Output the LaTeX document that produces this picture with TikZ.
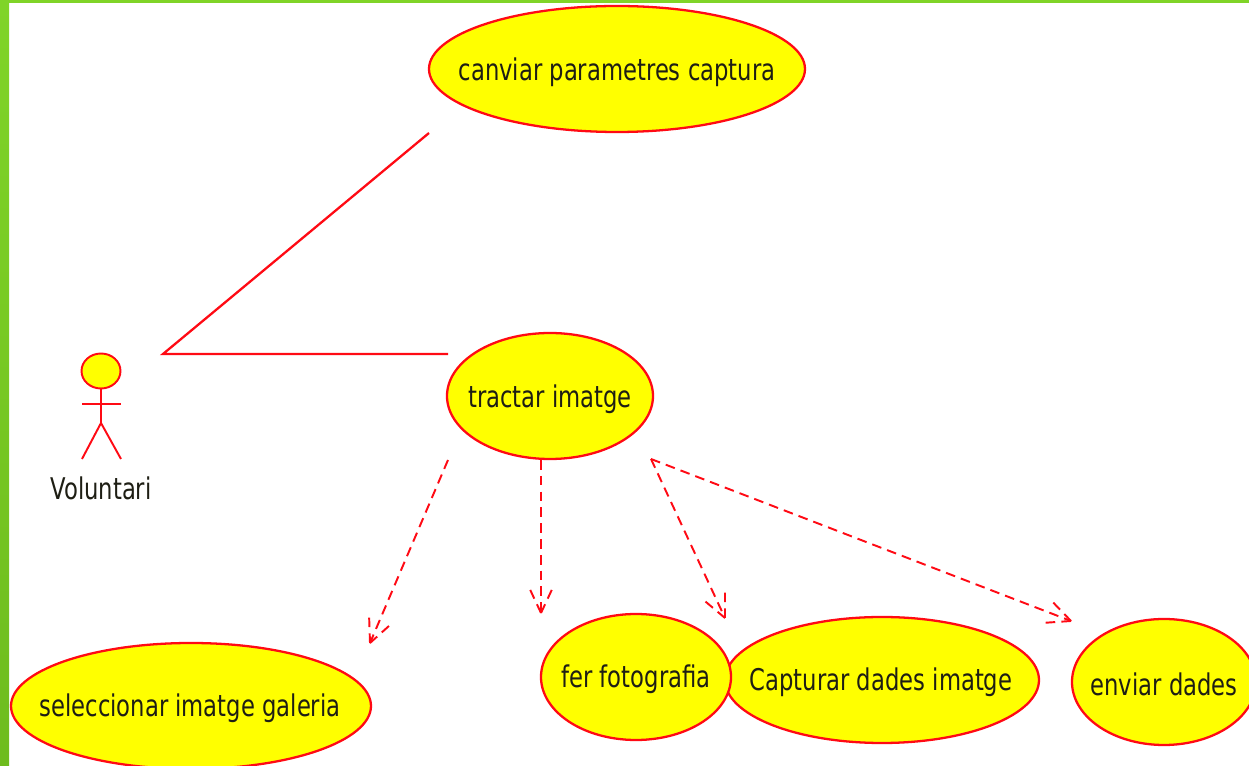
\documentclass[tikz,border=0pt]{standalone}
\usepackage{fontspec}
\setmainfont{DejaVu Sans}[FakeStretch=0.76]
\usepackage{xcolor}
\usetikzlibrary{shapes.geometric,calc}
\definecolor{linered}{RGB}{255,10,20}
\definecolor{fillyellow}{RGB}{255,255,0}
\definecolor{bargreen}{RGB}{128,212,40}
\definecolor{bardark}{RGB}{110,188,30}
\definecolor{textgrey}{RGB}{30,30,20}
\tikzset{
    usecase/.style={ellipse, draw=linered, fill=fillyellow, line width=1.3pt, inner sep=0pt,
        minimum height=126*0.02cm},
    casetext/.style={text=textgrey, font=\fontsize{17}{20}\selectfont},
    assoc/.style={linered, line width=1.3pt},
    dep/.style={linered, line width=1.1pt, dash pattern=on 5.5pt off 3.5pt},
    stick/.style={linered, line width=1.1pt}
}
\newcommand{\deplink}[2]{%
    \draw[dep] (#1) -- (#2);
    \draw[dep] (#2) -- ($(#2)!16pt!25:(#1)$);
    \draw[dep] (#2) -- ($(#2)!16pt!-25:(#1)$);
}
\begin{document}
\begin{tikzpicture}[x=0.02cm,y=-0.02cm]
    \useasboundingbox (0,0) rectangle (1249,766);

    % Green frame
    \fill[bargreen] (0,0) rectangle (1249,3);
    \fill[top color=bargreen, bottom color=bardark] (0,0) rectangle (9,766);

    % Use cases
    \node[usecase, minimum width=376*0.02cm] (canviar) at (617,69) {};
    \node[usecase, minimum width=206*0.02cm] (tractar) at (550,396) {};
    \node[usecase, minimum width=360*0.02cm] (seleccionar) at (191,706) {};
    \node[usecase, minimum width=314*0.02cm] (capturar) at (882,680) {};
    \node[usecase, minimum width=190*0.02cm] (fer) at (636,677) {};
    \node[usecase, minimum width=184*0.02cm] (enviar) at (1164,682) {};

    % Use case names
    \node[casetext] (canviarname) at (617,72) {canviar parametres captura};
    \node[casetext] (tractarname) at (550,399) {tractar imatge};
    \node[casetext] (seleccionarname) at (190,708) {seleccionar imatge galeria};
    \node[casetext] (capturarname) at (881,682) {Capturar dades imatge};
    \node[casetext] (fername) at (636,679) {fer fotografia};
    \node[casetext] (enviarname) at (1164,684) {enviar dades};

    % Actor
    \node[ellipse, draw=linered, fill=fillyellow, line width=1.1pt, inner sep=0pt,
        minimum width=39*0.02cm, minimum height=35*0.02cm] (head) at (101,371) {};
    \coordinate (hip) at (101,423);
    \coordinate (armL) at (82,404);
    \coordinate (armR) at (121,404);
    \coordinate (footL) at (82,459);
    \coordinate (footR) at (121,459);
    \draw[stick] (head.south) -- (hip);
    \draw[stick] (armL) -- (armR);
    \draw[stick] (footL) -- (hip) -- (footR);
    \node[casetext] (voluntari) at (101,488) {Voluntari};

    % Associations
    \coordinate (actorend) at (163,354);
    \coordinate (canviarend) at (429,133);
    \coordinate (tractarend) at (448,354);
    \draw[assoc] (canviarend) -- (actorend) -- (tractarend);

    % Dependencies
    \coordinate (fromSW) at (448,460);
    \coordinate (fromS) at (541,460);
    \coordinate (fromSE) at (651,459);
    \coordinate (toSeleccionar) at (370,643);
    \coordinate (toFer) at (541,613);
    \coordinate (toCapturar) at (725,618);
    \coordinate (toEnviar) at (1071,621);
    \deplink{fromSW}{toSeleccionar}
    \deplink{fromS}{toFer}
    \deplink{fromSE}{toCapturar}
    \deplink{fromSE}{toEnviar}
\end{tikzpicture}
\end{document}
